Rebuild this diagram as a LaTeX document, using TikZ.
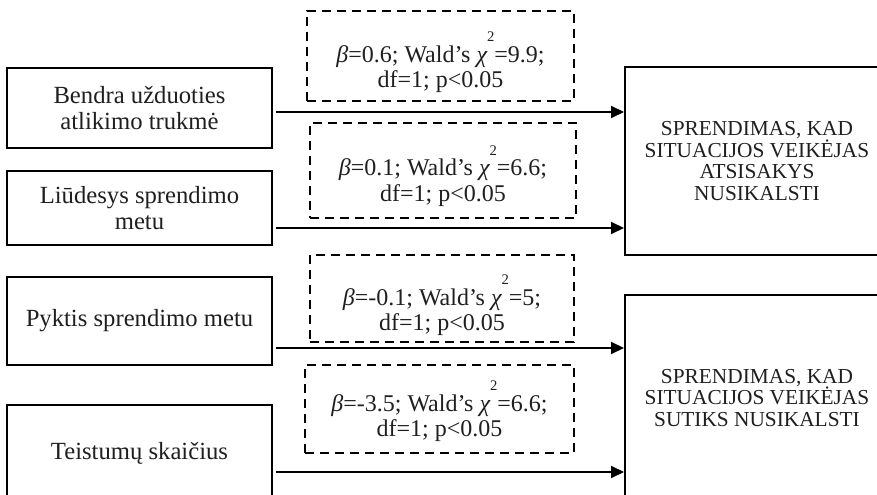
\documentclass[tikz,border=0pt]{standalone}
\usepackage{fontspec}
\setmainfont{Liberation Serif}
\usetikzlibrary{arrows.meta}
\newcommand\chisq{{\itshape χ}\smash{\raisebox{15.5pt}{\fontsize{11pt}{11pt}\selectfont 2}}}
\newcommand\bet{{\itshape β}}
\begin{document}
\begin{tikzpicture}[x=0.75pt,y=-0.75pt,
  lbox/.style={draw, line width=1.5pt, minimum width=198.75pt, align=center,
    font=\fontsize{18.5pt}{19.5pt}\selectfont, inner sep=0pt, text=black!88},
  rbox/.style={draw, line width=1.5pt, minimum width=198pt, align=center,
    font=\fontsize{16pt}{16.4pt}\selectfont, inner sep=0pt, text=black!88},
  dbox/.style={draw, dash pattern=on 6.75pt off 4.5pt, line width=1.5pt, inner sep=0pt},
  stat/.style={align=center, font=\fontsize{18pt}{19pt}\selectfont, inner sep=0pt, text=black!88},
  arr/.style={line width=1.5pt, shorten <=2pt, -{Triangle[length=9.75pt,width=9pt]}}
]
\useasboundingbox (0,0) rectangle (877,495);

% left boxes
\node[lbox, minimum height=60pt] (b1) at (139.5,108) {Bendra užduoties\\atlikimo trukmė};
\node[lbox, minimum height=55.5pt] (b2) at (139.5,208) {Liūdesys sprendimo\\metu};
\node[lbox, minimum height=66pt] (b3) at (139.5,321) {Pyktis sprendimo metu};
\node[lbox, minimum height=72pt] (b4) at (139.5,453) {Teistumų skaičius};

% right boxes
\node[rbox, minimum height=141pt] (r1) at (757,161) {SPRENDIMAS, KAD\\SITUACIJOS VEIKĖJAS\\ATSISAKYS\\NUSIKALSTI};
\node[rbox, minimum height=154.5pt] (r2) at (757,398) {SPRENDIMAS, KAD\\SITUACIJOS VEIKĖJAS\\SUTIKS NUSIKALSTI};

% dashed boxes
\node[dbox, minimum width=200.25pt, minimum height=67.5pt] (d1) at (440.5,56) {};
\node[dbox, minimum width=199.5pt, minimum height=71.25pt] (d2) at (443,170.5) {};
\node[dbox, minimum width=198pt, minimum height=65.25pt] (d3) at (442,298.5) {};
\node[dbox, minimum width=201.75pt, minimum height=66pt] (d4) at (439.5,409) {};

\node[stat] (t1) at ([yshift=-10pt]d1.center) {\bet=0.6; Wald’s \chisq=9.9;\\df=1; p<0.05};
\node[stat] (t2) at ([yshift=-9pt]d2.center) {\bet=0.1; Wald’s \chisq=6.6;\\df=1; p<0.05};
\node[stat] (t3) at ([yshift=-10pt]d3.center) {\bet=-0.1; Wald’s \chisq=5;\\df=1; p<0.05};
\node[stat] (t4) at ([yshift=-7pt]d4.center) {\bet=-3.5; Wald’s \chisq=6.6;\\df=1; p<0.05};

% arrows
\draw[arr] (b1.east |- 0,112) -- (r1.west |- 0,112);
\draw[arr] (b2.east |- 0,228) -- (r1.west |- 0,228);
\draw[arr] (b3.east |- 0,348) -- (r2.west |- 0,348);
\draw[arr] (b4.east |- 0,472) -- (r2.west |- 0,472);
\end{tikzpicture}
\end{document}
